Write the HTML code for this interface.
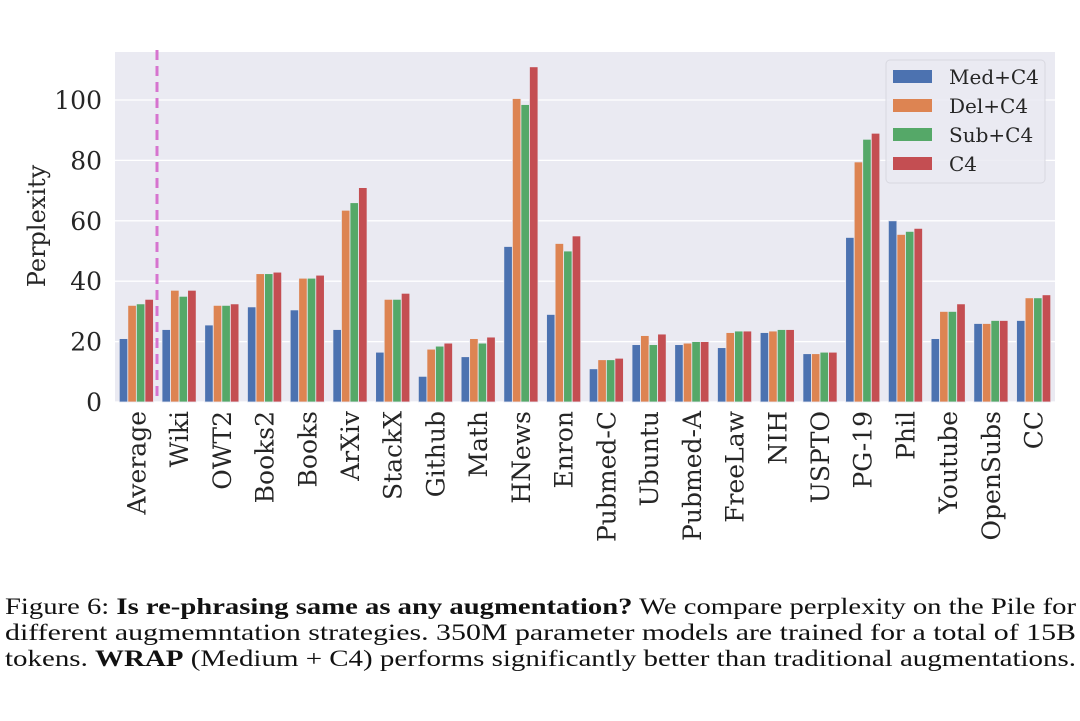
<!DOCTYPE html>
<html><head><meta charset="utf-8"><style>
html,body{margin:0;padding:0;background:#fff;width:1080px;height:721px;overflow:hidden}
svg{display:block}
text{font-family:"DejaVu Serif","Liberation Serif",serif;fill:#262626}
.cap text{font-family:"Liberation Serif",serif;fill:#111}
</style></head><body>
<svg id="chart" width="1080" height="721" xmlns="http://www.w3.org/2000/svg">
<text x="0" y="0" font-size="24" transform="translate(45,226) rotate(-90)" text-anchor="middle">Perplexity</text>
<g class="cap" font-size="23">
<text x="5" y="614" textLength="1071" lengthAdjust="spacingAndGlyphs">Figure 6: <tspan font-weight="bold">Is re-phrasing same as any augmentation?</tspan> We compare perplexity on the Pile for</text>
<text x="5" y="640" textLength="1071" lengthAdjust="spacingAndGlyphs">different augmemntation strategies. 350M parameter models are trained for a total of 15B</text>
<text x="5" y="666" textLength="1071" lengthAdjust="spacingAndGlyphs">tokens. <tspan font-weight="bold">WRAP</tspan> (Medium + C4) performs significantly better than traditional augmentations.</text>
</g>
</svg>
<script>
const categories=["Average","Wiki","OWT2","Books2","Books","ArXiv","StackX","Github","Math","HNews","Enron","Pubmed-C","Ubuntu","Pubmed-A","FreeLaw","NIH","USPTO","PG-19","Phil","Youtube","OpenSubs","CC"];
const seriesNames=["Med+C4","Del+C4","Sub+C4","C4"];
const medC4=[21,24,25.5,31.5,30.5,24,16.5,8.5,15,51.5,29,11,19,19,18,23,16,54.5,60,21,26,27];
const delC4=[32,37,32,42.5,41,63.5,34,17.5,21,100.5,52.5,14,22,19.5,23,23.5,16,79.5,55.5,30,26,34.5];
const subC4=[32.5,35,32,42.5,41,66,34,18.5,19.5,98.5,50,14,19,20,23.5,24,16.5,87,56.5,30,27,34.5];
const c4=[34,37,32.5,43,42,71,36,19.5,21.5,111,55,14.5,22.5,20,23.5,24,16.5,89,57.5,32.5,27,35.5];
const yTicks=[0,20,40,60,80,100];
const colors=["#4C72B0","#DD8452","#55A868","#C44E52"];
const series=[medC4,delC4,subC4,c4];
const NS="http://www.w3.org/2000/svg";
const svg=document.getElementById('chart');
const L=115,R=1055,T=52,B=402,yMax=115.9;
const gw=(R-L)/categories.length;
const y=v=>B-(v/yMax)*(B-T);
const xc=i=>L+gw*(i+0.5);
function mk(t,a){const e=document.createElementNS(NS,t);for(const k in a)e.setAttribute(k,a[k]);return e;}
const bg=mk('rect',{x:L,y:T,width:R-L,height:B-T,fill:'#EAEAF2'});


svg.appendChild(bg);
yTicks.forEach(t=>{
 const g=mk('line',{x1:L,x2:R,y1:y(t),y2:y(t),stroke:'#fff','stroke-width':1.3});
 
 
 svg.appendChild(g);
 const tx=mk('text',{x:L-13,y:y(t)+9,'font-size':25,'text-anchor':'end'});
 tx.textContent=t;
 
 
 svg.appendChild(tx);
});
const bw=gw*0.8/4;
categories.forEach((c,i)=>{
 series.forEach((s,j)=>{
  const x0=xc(i)-gw*0.4+j*bw;
  const r=mk('rect',{x:x0,y:y(s[i]),width:bw,height:B-y(s[i]),fill:colors[j],stroke:'#EAEAF2','stroke-width':0.8});
  
  
  svg.appendChild(r);
 });
 const tx=mk('text',{x:0,y:0,'font-size':25,'text-anchor':'end',transform:`translate(${xc(i)+9},${B+9}) rotate(-90)`});
 tx.textContent=c;
 
 
 svg.appendChild(tx);
});
const dl=mk('line',{x1:157,x2:157,y1:T-2,y2:B,stroke:'#D674CF','stroke-width':3,'stroke-dasharray':'10,6'});


svg.appendChild(dl);
const lg=mk('g',{});


lg.appendChild(mk('rect',{x:886,y:60,width:159,height:123,rx:4,fill:'#EAEAF2','fill-opacity':0.85,stroke:'#d8d8e0'}));
seriesNames.forEach((n,j)=>{
 const p=mk('rect',{x:893,y:70+j*29,width:39,height:13,fill:colors[j]});
 lg.appendChild(p);
 const t=mk('text',{x:949,y:84+j*29,'font-size':20});
 t.textContent=n;
 
 
 lg.appendChild(t);
});
svg.appendChild(lg);
</script>
</body></html>
